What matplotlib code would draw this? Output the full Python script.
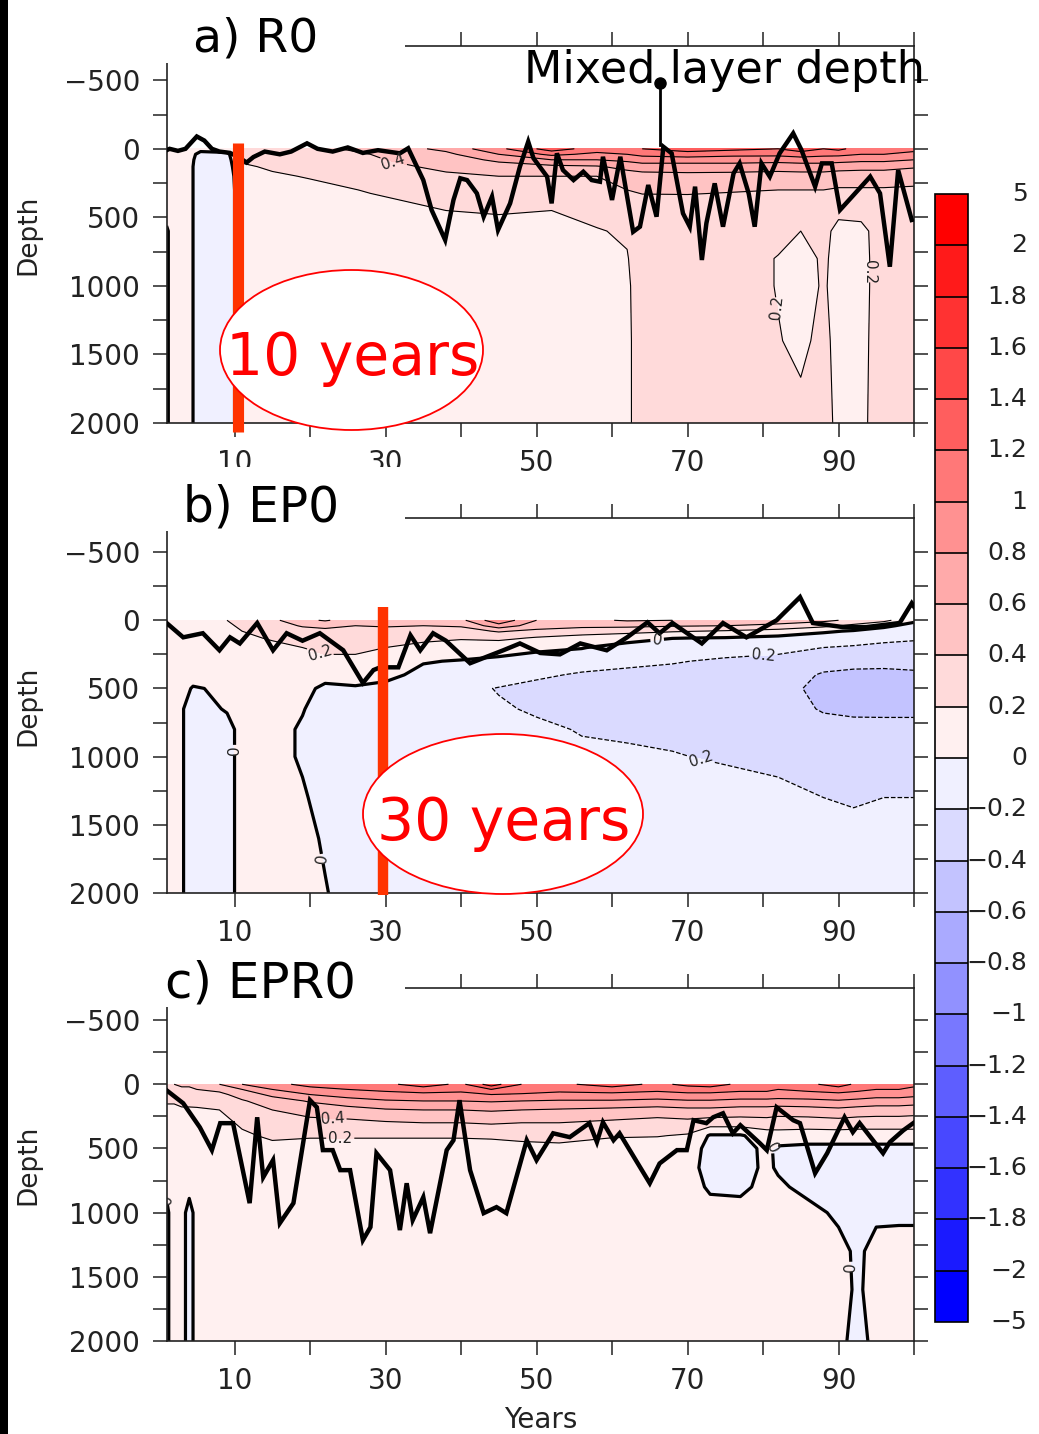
import numpy as np
import matplotlib
matplotlib.use('Agg')
import matplotlib.pyplot as plt
from matplotlib.patches import Ellipse, Rectangle

W, H = 1039, 1434

# shading intervals (anomaly, degC) shared by the three panels and the colour bar
levels = [-5, -2, -1.8, -1.6, -1.4, -1.2, -1, -0.8, -0.6, -0.4, -0.2, 0,
          0.2, 0.4, 0.6, 0.8, 1, 1.2, 1.4, 1.6, 1.8, 2, 5]
shades = ['#0000ff', '#1a1aff', '#3232ff', '#4848ff', '#5e5eff', '#7878ff',
          '#9191ff', '#aaaaff', '#c3c3ff', '#dadaff', '#f0f0ff',
          '#fff0f0', '#ffdada', '#ffc3c3', '#ffaaaa', '#ff9191', '#ff7878',
          '#ff5e5e', '#ff4848', '#ff3232', '#ff1a1a', '#ff0000']

# ---- a) R0 : anomaly on a year x depth grid (rows = depth) ----
year_a = [1, 3.5, 5.5, 9, 11, 15, 20, 28, 38, 45, 52, 58, 62, 64, 70, 76,
          82, 85, 88, 90, 93, 96, 100]
depth_a = [0, 40, 80, 130, 200, 300, 450, 600, 800, 1000, 1400, 2000]
anom_a = [
    [0.1, 0.1, 0.05, 0.1, 0.3, 0.3, 0.35, 0.45, 0.65, 0.95, 1.3, 1.1, 1.15, 1.2, 1.3, 1.25, 1.2, 1.3, 1.2, 1.25, 1.1, 1.2, 1.05],
    [0.1, 0.1, -0.05, -0.05, 0.25, 0.3, 0.32, 0.4, 0.55, 0.8, 1.05, 0.95, 1.0, 1.05, 1.1, 1.05, 1.05, 1.1, 1.05, 1.05, 1.0, 1.0, 0.95],
    [0.1, 0.1, -0.08, -0.08, 0.22, 0.26, 0.3, 0.38, 0.48, 0.65, 0.8, 0.8, 0.85, 0.9, 0.9, 0.9, 0.88, 0.9, 0.9, 0.88, 0.85, 0.85, 0.8],
    [0.08, 0.1, -0.1, -0.1, 0.18, 0.22, 0.26, 0.32, 0.45, 0.5, 0.55, 0.58, 0.66, 0.7, 0.7, 0.7, 0.68, 0.7, 0.7, 0.68, 0.66, 0.66, 0.62],
    [0.07, 0.1, -0.1, -0.1, 0.12, 0.18, 0.21, 0.27, 0.36, 0.4, 0.4, 0.4, 0.5, 0.52, 0.54, 0.53, 0.52, 0.52, 0.52, 0.5, 0.5, 0.5, 0.48],
    [0.06, 0.1, -0.1, -0.1, 0.1, 0.12, 0.16, 0.21, 0.27, 0.3, 0.3, 0.32, 0.4, 0.42, 0.42, 0.41, 0.4, 0.4, 0.4, 0.38, 0.38, 0.38, 0.37],
    [0.03, 0.1, -0.1, -0.1, 0.1, 0.1, 0.12, 0.15, 0.2, 0.21, 0.2, 0.25, 0.3, 0.32, 0.33, 0.32, 0.31, 0.3, 0.3, 0.24, 0.26, 0.3, 0.3],
    [-0.01, 0.1, -0.1, -0.1, 0.1, 0.1, 0.1, 0.12, 0.15, 0.16, 0.17, 0.19, 0.22, 0.3, 0.3, 0.3, 0.27, 0.2, 0.25, 0.15, 0.15, 0.3, 0.3],
    [-0.01, 0.1, -0.1, -0.1, 0.1, 0.1, 0.1, 0.1, 0.12, 0.14, 0.15, 0.16, 0.19, 0.3, 0.3, 0.3, 0.19, 0.12, 0.23, 0.14, 0.14, 0.3, 0.3],
    [-0.01, 0.1, -0.1, -0.1, 0.1, 0.1, 0.1, 0.1, 0.1, 0.12, 0.13, 0.15, 0.17, 0.3, 0.3, 0.3, 0.19, 0.12, 0.22, 0.14, 0.14, 0.3, 0.3],
    [-0.01, 0.1, -0.1, -0.1, 0.1, 0.1, 0.1, 0.1, 0.1, 0.1, 0.12, 0.14, 0.16, 0.3, 0.3, 0.3, 0.21, 0.16, 0.25, 0.14, 0.15, 0.3, 0.3],
    [-0.01, 0.1, -0.1, -0.1, 0.1, 0.1, 0.1, 0.1, 0.1, 0.1, 0.12, 0.14, 0.16, 0.3, 0.3, 0.3, 0.3, 0.25, 0.28, 0.15, 0.16, 0.3, 0.3],
]
mld_year_a = [1, 1.4, 2.5, 3.5, 5, 6, 7, 8, 9.4, 10.5, 11.6, 12.5, 14, 16,
              17.5, 19.6, 21, 23, 25, 27, 29, 31.9, 33.0, 35.0, 36.1, 37.9,
              39.0, 39.9, 40.8, 42.1, 43.0, 44.1, 44.9, 46.5, 47.8, 48.9, 49.6,
              51.4, 52.0, 52.7, 53.5, 54.9, 56.2, 57.3, 58.4, 58.8, 60.0, 61.1,
              62.8, 63.7, 64.8, 65.9, 66.8, 67.9, 69.4, 70.3, 71.0, 71.9, 72.5,
              73.6, 74.7, 76.1, 76.9, 78.1, 78.9, 79.8, 80.9, 82.2, 84.0, 85.1,
              86.9, 87.8, 89.1, 90.2, 91.8, 94.2, 95.5, 96.8, 97.9, 99.7]
mld_a = [10, 0, 15, 0, -90, -60, 0, 20, 30, 60, 100, 60, 20, 40, 20, -40, 0,
         20, -10, 30, 10, 33, -4, 228, 446, 665, 373, 215, 228, 325, 495, 349,
         592, 398, 130, -52, 69, 203, 398, 33, 155, 228, 167, 228, 240, 58,
         373, 58, 605, 568, 264, 495, -15, 33, 471, 568, 276, 811, 543, 252,
         568, 179, 106, 325, 568, 106, 203, 33, -113, 9, 276, 106, 106, 446,
         349, 203, 325, 860, 155, 519]

# ---- b) EP0 ----
year_b = [1, 3, 4.5, 9, 11, 15, 19, 22, 26, 30, 35, 40, 45, 50, 56, 62, 68,
          75, 82, 88, 92, 96, 100]
depth_b = [0, 40, 80, 130, 200, 300, 400, 500, 650, 800, 1000, 1300, 1600, 2000]
anom_b = [
    [0.15, 0.15, 0.15, 0.2, 0.25, 0.35, 0.55, 0.62, 0.5, 0.55, 0.45, 0.55, 0.95, 0.6, 0.55, 0.62, 0.6, 0.55, 0.5, 0.45, 0.35, 0.25, 0.05],
    [0.12, 0.12, 0.13, 0.18, 0.22, 0.3, 0.42, 0.45, 0.4, 0.42, 0.4, 0.42, 0.72, 0.5, 0.45, 0.45, 0.42, 0.4, 0.35, 0.25, 0.15, 0.05, -0.08],
    [0.1, 0.1, 0.11, 0.15, 0.2, 0.25, 0.32, 0.35, 0.32, 0.33, 0.3, 0.32, 0.42, 0.35, 0.3, 0.26, 0.22, 0.18, 0.12, 0.03, -0.02, -0.1, -0.15],
    [0.08, 0.08, 0.1, 0.12, 0.16, 0.22, 0.28, 0.3, 0.28, 0.27, 0.24, 0.22, 0.25, 0.18, 0.12, 0.08, 0.005, -0.01, -0.05, -0.1, -0.12, -0.16, -0.18],
    [0.08, 0.1, 0.1, 0.1, 0.12, 0.15, 0.2, 0.22, 0.22, 0.2, 0.15, 0.1, 0.06, 0.03, 0.01, -0.08, -0.12, -0.14, -0.16, -0.2, -0.22, -0.24, -0.25],
    [0.07, 0.07, 0.08, 0.1, 0.12, 0.15, 0.18, 0.18, 0.18, 0.12, 0.01, -0.01, -0.03, -0.06, -0.12, -0.16, -0.19, -0.22, -0.24, -0.32, -0.33, -0.33, -0.32],
    [0.06, 0.06, 0.05, 0.08, 0.1, 0.12, 0.1, 0.05, 0.04, 0.04, -0.04, -0.06, -0.1, -0.17, -0.22, -0.24, -0.24, -0.26, -0.3, -0.42, -0.45, -0.46, -0.44],
    [0.05, 0.04, -0.01, 0.02, 0.08, 0.08, 0.04, -0.03, -0.01, -0.04, -0.1, -0.15, -0.21, -0.25, -0.27, -0.28, -0.28, -0.3, -0.34, -0.45, -0.5, -0.5, -0.48],
    [0.05, 0.02, -0.1, 0.02, 0.08, 0.08, 0.01, -0.08, -0.1, -0.1, -0.12, -0.15, -0.18, -0.22, -0.25, -0.25, -0.26, -0.27, -0.3, -0.42, -0.44, -0.45, -0.45],
    [0.05, 0.02, -0.1, -0.08, 0.08, 0.06, -0.02, -0.1, -0.12, -0.12, -0.12, -0.14, -0.15, -0.17, -0.21, -0.22, -0.22, -0.24, -0.26, -0.32, -0.34, -0.33, -0.33],
    [0.05, 0.02, -0.1, -0.08, 0.08, 0.06, -0.02, -0.1, -0.12, -0.12, -0.12, -0.13, -0.14, -0.15, -0.17, -0.18, -0.195, -0.21, -0.22, -0.25, -0.26, -0.26, -0.26],
    [0.05, 0.02, -0.1, -0.08, 0.08, 0.08, 0.02, -0.06, -0.1, -0.1, -0.1, -0.1, -0.1, -0.12, -0.13, -0.14, -0.15, -0.16, -0.18, -0.2, -0.21, -0.2, -0.2],
    [0.05, 0.02, -0.1, -0.08, 0.08, 0.08, 0.05, -0.02, -0.1, -0.1, -0.1, -0.1, -0.1, -0.11, -0.12, -0.13, -0.14, -0.15, -0.16, -0.17, -0.17, -0.16, -0.16],
    [0.05, 0.02, -0.1, -0.08, 0.08, 0.08, 0.06, 0.01, -0.08, -0.1, -0.1, -0.1, -0.1, -0.1, -0.11, -0.12, -0.13, -0.14, -0.15, -0.16, -0.16, -0.15, -0.15],
]
mld_year_b = [1, 3.2, 5.8, 8, 9.4, 10.7, 13, 15.1, 16.9, 19, 21.3, 24.4, 27,
              28.4, 29.3, 31.7, 33.3, 34.6, 36.3, 38, 41.2, 45.6, 47.8, 50.5,
              53.1, 55.8, 59.3, 62, 64.7, 66.3, 68, 71.9, 74.7, 77.8, 81.8,
              84.9, 86.6, 90.6, 93.7, 98.1, 99.7, 100]
mld_b = [20, 125, 95, 220, 125, 170, 20, 220, 95, 150, 95, 220, 460, 365, 345,
         345, 110, 220, 95, 150, 315, 220, 170, 240, 250, 170, 220, 125, 15,
         95, 20, 170, 20, 125, 0, -170, 20, 50, 50, 20, -125, -100]

# ---- c) EPR0 ----
year_c = [1, 2, 3, 4, 5, 8, 11, 15, 20, 25, 30, 35, 40, 44, 48, 53, 60, 66,
          70, 73, 77, 80.5, 82, 86, 90, 92.5, 95, 98, 100]
depth_c = [0, 40, 80, 130, 200, 300, 400, 500, 650, 800, 1000, 1300, 1600, 2000]
anom_c = [
    [0.4, 0.4, 0.45, 0.45, 0.5, 0.6, 0.8, 0.95, 1.05, 1.1, 1.15, 1.3, 1.15, 1.5, 1.2, 1.15, 1.3, 1.15, 1.25, 1.3, 1.15, 1.15, 1.1, 1.15, 1.3, 1.15, 1.1, 1.1, 1.05],
    [0.3, 0.3, 0.35, 0.35, 0.4, 0.45, 0.6, 0.8, 0.95, 1.0, 1.05, 1.1, 1.05, 1.2, 1.1, 1.05, 1.1, 1.05, 1.1, 1.1, 1.05, 1.05, 1.0, 1.05, 1.1, 1.05, 1.0, 1.0, 0.95],
    [0.25, 0.25, 0.28, 0.28, 0.3, 0.35, 0.48, 0.65, 0.8, 0.88, 0.92, 0.95, 0.95, 1.0, 0.98, 0.95, 0.95, 0.92, 0.95, 0.95, 0.92, 0.92, 0.9, 0.92, 0.95, 0.92, 0.88, 0.88, 0.85],
    [0.22, 0.22, 0.24, 0.24, 0.25, 0.28, 0.38, 0.5, 0.62, 0.72, 0.78, 0.8, 0.8, 0.82, 0.8, 0.78, 0.78, 0.75, 0.78, 0.78, 0.75, 0.75, 0.74, 0.75, 0.78, 0.75, 0.72, 0.72, 0.7],
    [0.16, 0.16, 0.18, 0.18, 0.18, 0.2, 0.3, 0.4, 0.48, 0.52, 0.58, 0.6, 0.6, 0.62, 0.6, 0.58, 0.55, 0.52, 0.55, 0.55, 0.52, 0.52, 0.5, 0.52, 0.55, 0.52, 0.5, 0.5, 0.48],
    [0.1, 0.1, 0.12, 0.12, 0.12, 0.14, 0.23, 0.3, 0.34, 0.35, 0.38, 0.4, 0.4, 0.42, 0.4, 0.4, 0.36, 0.32, 0.34, 0.3, 0.3, 0.32, 0.3, 0.3, 0.32, 0.3, 0.3, 0.3, 0.3],
    [0.08, 0.08, 0.1, 0.1, 0.1, 0.1, 0.17, 0.23, 0.22, 0.22, 0.22, 0.22, 0.22, 0.23, 0.25, 0.28, 0.22, 0.21, 0.18, -0.02, -0.02, 0.1, 0.12, 0.1, 0.1, 0.1, 0.1, 0.1, 0.1],
    [0.06, 0.06, 0.08, 0.08, 0.08, 0.08, 0.1, 0.15, 0.12, 0.12, 0.12, 0.12, 0.12, 0.12, 0.14, 0.14, 0.1, 0.1, 0.08, -0.05, -0.05, 0.03, -0.03, -0.05, -0.05, -0.05, -0.05, -0.05, -0.05],
    [0.05, 0.06, 0.08, 0.06, 0.08] + [0.08] * 13 + [0.06, -0.06, -0.06, 0.03, -0.02, -0.06, -0.06, -0.06, -0.06, -0.06, -0.06],
    [0.02, 0.06, 0.06, 0.04, 0.06] + [0.08] * 13 + [0.06, -0.02, -0.03, 0.04, 0.03, -0.05, -0.06, -0.06, -0.06, -0.06, -0.06],
    [-0.02, 0.05, 0.05, -0.05, 0.05] + [0.08] * 13 + [0.06, 0.05, 0.05, 0.06, 0.06, 0.05, -0.03, -0.05, -0.03, -0.03, -0.03],
    [-0.02, 0.05, 0.05, -0.05, 0.05] + [0.08] * 13 + [0.07, 0.07, 0.07, 0.07, 0.07, 0.06, 0.05, -0.03, 0.05, 0.06, 0.06],
    [-0.02, 0.05, 0.05, -0.05, 0.05] + [0.08] * 13 + [0.07, 0.07, 0.07, 0.07, 0.07, 0.06, 0.05, -0.02, 0.05, 0.06, 0.06],
    [-0.02, 0.05, 0.05, -0.05, 0.05] + [0.08] * 13 + [0.07, 0.07, 0.07, 0.07, 0.07, 0.06, 0.04, -0.05, 0.04, 0.06, 0.06],
]
mld_year_c = [1, 3.2, 5.4, 7, 8.1, 9.8, 12, 13, 13.8, 15.1, 16, 17.8, 20, 20.9,
              21.7, 23, 24, 25.3, 27, 28, 28.8, 30.6, 31.9, 32.8, 33.6, 35,
              35.9, 38.1, 39, 39.8, 41.2, 43, 44.7, 46, 48.7, 50, 52.2, 54.4,
              57, 58, 58.8, 60.2, 61, 65, 66.3, 68.6, 69.9, 70.8, 72.5, 73.4,
              74.7, 76, 77, 79.6, 80.5, 81.8, 84, 84.9, 86.9, 88.5, 90.8, 91.9,
              92.8, 95.9, 96.8, 98.6, 99.9]
mld_c = [47, 148, 335, 513, 303, 303, 926, 257, 724, 591, 1082, 926, 124, 179,
         513, 513, 669, 669, 1214, 1113, 537, 669, 1136, 771, 1058, 880, 1160,
         513, 436, 124, 669, 1004, 957, 1004, 436, 591, 382, 412, 303, 450,
         296, 436, 382, 771, 617, 513, 513, 280, 303, 257, 226, 382, 319, 460,
         513, 179, 280, 303, 693, 537, 257, 373, 303, 537, 451, 358, 303]

INK = '#222222'


def px_rect(x0, y0, x1, y1):
    """pixel box (top-left origin) -> figure fraction [left, bottom, w, h]"""
    return [x0 / W, 1 - y1 / H, (x1 - x0) / W, (y1 - y0) / H]


def fx(x):
    return x / W


def fy(y):
    return 1 - y / H


def draw_panel(ax, years, depths, anom, mld_years, mld, labels):
    z = np.array(anom)
    cf = ax.contourf(years, depths, z, levels=levels, colors=shades)

    # one contour set per isoline so that each can carry its own labels
    lines = {}
    for v in levels[1:-1]:
        if not z.min() < v < z.max():
            continue
        if v == 0:
            lw, ls = 2.3, 'solid'
        elif v < 0:
            lw, ls = 0.9, 'dashed'
        else:
            lw, ls = 0.8, 'solid'
        lines[v] = ax.contour(years, depths, z, levels=[v], colors='k',
                              linewidths=lw, linestyles=ls)
    ax.plot(mld_years, mld, color='k', lw=3.2, solid_joinstyle='miter', zorder=3)

    for v, xy in labels:
        lines[v].clabel(manual=[xy], fmt=lambda t: f'{abs(t):g}', fontsize=11,
                        inline=True, inline_spacing=2, colors=INK)

    ax.set_xlim(1, 100)
    ax.set_ylim(2000, -750)
    ax.set_xticks(range(10, 101, 10))
    ax.set_xticklabels([str(v) if v % 20 == 10 else '' for v in range(10, 101, 10)])
    ax.set_yticks(range(-500, 2001, 250))
    ax.set_yticklabels([str(v).replace('-', '\u2212') if v % 500 == 0 else ''
                        for v in range(-500, 2001, 250)])
    ax.tick_params(direction='out', length=10, width=1.1, top=True, right=True,
                   labelsize=20, colors=INK)
    ax.tick_params(axis='x', pad=9)
    ax.tick_params(axis='y', pad=9)
    for sp in ax.spines.values():
        sp.set_linewidth(1.2)
        sp.set_color(INK)
    ax.set_ylabel('Depth', fontsize=19, color=INK)
    ax.yaxis.set_label_coords(-0.168, 0.5)
    return cf


fig = plt.figure(figsize=(W / 100, H / 100), dpi=100)

ax_a = fig.add_axes(px_rect(166.6, 46, 914, 423))
ax_b = fig.add_axes(px_rect(166.6, 518, 914, 893))
ax_c = fig.add_axes(px_rect(166.6, 988, 914, 1341))

cf = draw_panel(ax_a, year_a, depth_a, anom_a, mld_year_a, mld_a,
                [(0.4, (31, 100)), (0.2, (83.5, 1150)), (0.2, (91.5, 900))])
draw_panel(ax_b, year_b, depth_b, anom_b, mld_year_b, mld_b,
           [(0.2, (21, 270)), (0, (10, 950)), (0, (21.5, 1750)), (0, (66, 150)),
            (-0.2, (80, 250)), (-0.2, (72, 1000))])
draw_panel(ax_c, year_c, depth_c, anom_c, mld_year_c, mld_c,
           [(0.4, (23, 250)), (0.2, (24, 420)), (0, (1.2, 900)),
            (0, (92.5, 1420)), (0, (80.5, 470))])
ax_c.set_xlabel('Years', fontsize=20, color=INK, labelpad=8)

# red markers of the adjustment time
ax_a.plot([10.5, 10.5], [-44, 2066], color='#ff3300', lw=8,
          solid_capstyle='butt', clip_on=False, zorder=4)
ax_b.plot([29.7, 29.7], [-95, 2015], color='#ff3300', lw=7.5,
          solid_capstyle='butt', clip_on=False, zorder=4)

# mixed layer depth pointer
ax_a.plot([66.4, 66.4], [-480, -28], color='k', lw=2, clip_on=False, zorder=4)
ax_a.plot([66.4], [-480], 'o', color='k', ms=8, clip_on=False, zorder=4)
fig.text(fx(724), fy(70), 'Mixed layer depth', fontsize=32, ha='center',
         va='center', zorder=7)

# white label boxes over the upper-left corners, with panel titles
for y0, y1 in [(0, 63), (467, 531), (943, 1007)]:
    fig.add_artist(Rectangle((fx(8), fy(y1)), fx(405) - fx(8), (y1 - y0) / H,
                             transform=fig.transFigure, facecolor='white',
                             edgecolor='none', zorder=5))
fig.text(fx(193), fy(52), 'a) R0', fontsize=34, va='baseline', zorder=6)
fig.text(fx(183), fy(522), 'b) EP0', fontsize=35, va='baseline', zorder=6)
fig.text(fx(165), fy(998), 'c) EPR0', fontsize=36, va='baseline', zorder=6)

# ellipses with the adjustment times
for (cx, cy, w, h), txt, base in [((351.5, 350, 263, 160), '10 years', 375),
                                   ((503, 814, 280, 160), '30 years', 840)]:
    fig.add_artist(Ellipse((fx(cx), fy(cy)), w / W, h / H,
                           transform=fig.transFigure, facecolor='white',
                           edgecolor='#ff0000', lw=1.3, zorder=6))
    fig.text(fx(cx + 1), fy(base), txt, fontsize=42, color='#ff0000',
             ha='center', va='baseline', zorder=7)

# colour bar with labels at the interval edges
cax = fig.add_axes(px_rect(935, 194, 968, 1322))
cb = fig.colorbar(cf, cax=cax, drawedges=True)
cb.set_ticks([])
cb.outline.set_linewidth(1.2)
cb.dividers.set_linewidth(1.2)
n = len(levels) - 1
for i, v in enumerate(levels):
    cax.text(2.8, i / n, f'{v:g}'.replace('-', '\u2212'), transform=cax.transAxes,
             ha='right', va='center', fontsize=18, color=INK)

# dark strip along the left border
fig.add_artist(Rectangle((0, 0), fx(8), 1, transform=fig.transFigure,
                         facecolor='black', edgecolor='none', zorder=8))

fig.savefig('out.png', dpi=100)
